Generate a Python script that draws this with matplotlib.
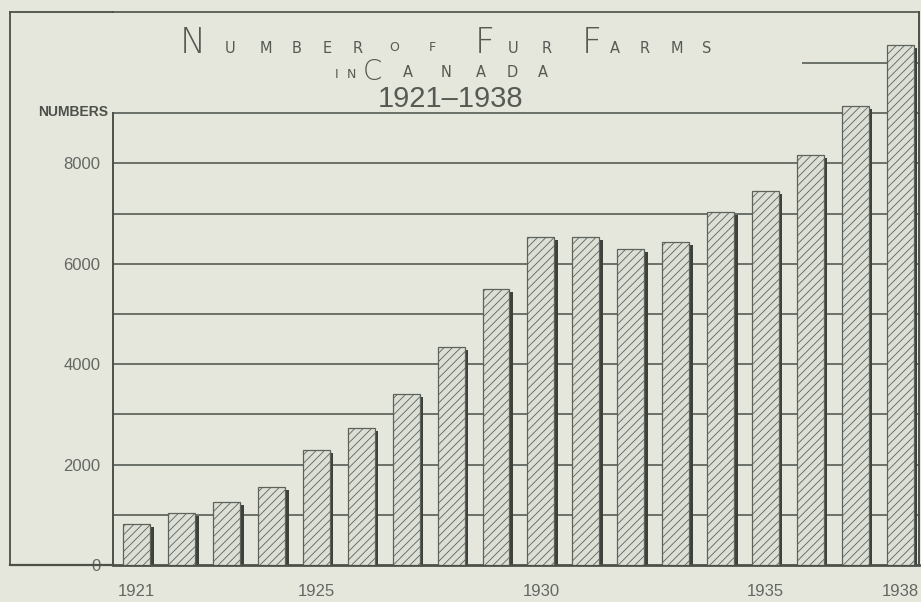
import matplotlib.pyplot as plt
from matplotlib.lines import Line2D

# ---------------------------------------------------------------------------
# Data
# ---------------------------------------------------------------------------

YEARS = list(range(1921, 1939))
FARMS = [810, 1030, 1250, 1560, 2290, 2720, 3400, 4350, 5500,
         6540, 6540, 6290, 6440, 7030, 7460, 8160, 9150, 10350]
Y_TICKS = [0, 2000, 4000, 6000, 8000]
X_TICKS = [1921, 1925, 1930, 1935, 1938]
GRID_LEVELS = [1000, 2000, 3000, 4000, 5000, 6000, 7000, 8000, 9000]

# ---------------------------------------------------------------------------
# Style
# ---------------------------------------------------------------------------

PAPER = "#e5e7dd"
INK = "#4b5049"
TITLE_INK = "#555a53"
LABEL_INK = "#646862"
BAR_FILL = "#dcdfd5"
SHADOW = "#3d413b"

NARROW = ["Liberation Sans Narrow", "Liberation Sans", "DejaVu Sans"]
SANS = ["Liberation Sans", "DejaVu Sans"]

plt.rcParams["hatch.linewidth"] = 0.6

W, H = 921, 602
fig = plt.figure(figsize=(W / 100, H / 100), dpi=100, facecolor=PAPER)


def fx(x):
    return x / W


def fy(y):
    return 1 - y / H


ax = fig.add_axes([fx(113), fy(565), fx(919 - 113), (565 - 12) / H])
ax.set_facecolor(PAPER)
ax.set_xlim(1920.47, 1938.42)
ax.set_ylim(0, 11016)

# grid
for lvl in GRID_LEVELS:
    ax.axhline(lvl, color=INK, lw=1.1, zorder=1)
ax.hlines(10000, 1935.82, 1938.42, color=INK, lw=1.1, zorder=1)

# bars with a dark drop shadow on the right
ax.bar([y + 0.08 for y in YEARS], [v - 60 for v in FARMS], width=0.6,
       color=SHADOW, zorder=2)
ax.bar(YEARS, FARMS, width=0.6, facecolor=BAR_FILL, edgecolor="#5d625b",
       hatch="////", lw=0.9, zorder=3)

# inner vertical axis only goes up to 9000
ax.plot([1920.47, 1920.47], [0, 9000], color=INK, lw=1.4, clip_on=False, zorder=4)

ax.spines["left"].set_visible(False)
ax.spines["bottom"].set_linewidth(2.0)
ax.spines["top"].set_linewidth(1.2)
ax.spines["right"].set_linewidth(1.4)
for s in ax.spines.values():
    s.set_color(INK)

ax.set_yticks(Y_TICKS)
ax.set_yticklabels([str(t) for t in Y_TICKS], family=SANS, fontsize=12,
                   color=LABEL_INK)
ax.set_xticks(X_TICKS)
ax.set_xticklabels([str(t) for t in X_TICKS], family=NARROW, fontsize=12,
                   color=LABEL_INK)
ax.tick_params(axis="y", length=0, pad=9)
ax.tick_params(axis="x", length=0, pad=14)

# outer frame pieces left of the plot
for xs, ys in (([10, 10], [12, 565]), ([10, 113], [12, 12]), ([10, 113], [565, 565])):
    fig.add_artist(Line2D([fx(x) for x in xs], [fy(y) for y in ys],
                          color=INK, lw=1.6 if ys[0] == 565 else 1.3))

fig.text(fx(73), fy(112), "NUMBERS", ha="center", va="center",
         family=NARROW, fontsize=10, fontweight="bold", color=INK)

# ---------------------------------------------------------------------------
# Title in spaced small caps
# ---------------------------------------------------------------------------


def letters(chars, centers, base, size, weight="normal"):
    for ch, cx in zip(chars, centers):
        fig.text(fx(cx), fy(base), ch, ha="center", va="baseline",
                 fontsize=size, color=TITLE_INK, family="DejaVu Sans",
                 fontweight=weight)


letters("N", [193], 53, 25, 200)
letters("UMBER", [230, 266, 297, 327, 358], 53, 10.5)
letters("OF", [394, 432], 51, 9)
letters("F", [485], 53, 25, 200)
letters("UR", [513, 547], 53, 10.5)
letters("F", [592], 53, 25, 200)
letters("ARMS", [615, 645, 677, 707], 53, 10.5)

letters("IN", [337, 351], 78, 9)
letters("C", [372], 80, 20, 200)
letters("ANADA", [408, 446, 481, 512, 543], 77, 10.5)

fig.text(fx(451), fy(107), "1921–1938", ha="center", va="baseline",
         family=NARROW, fontsize=21, color=TITLE_INK)

fig.savefig("out.png", dpi=100, facecolor=PAPER)
